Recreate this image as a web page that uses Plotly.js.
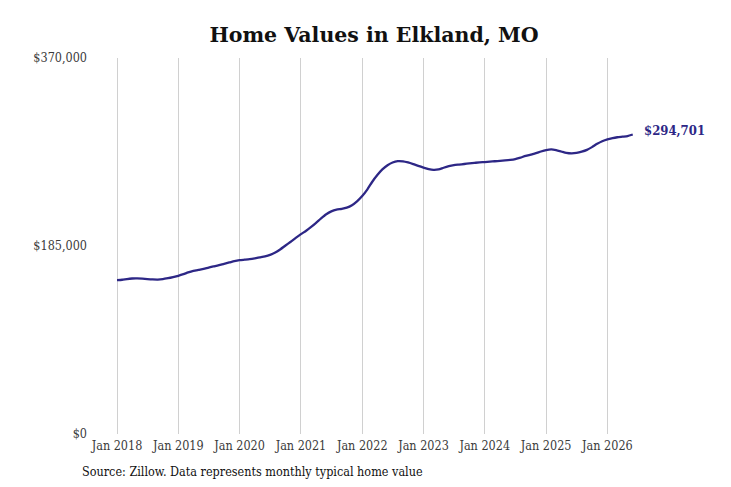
<!DOCTYPE html>
<html>
<head>
<meta charset="utf-8">
<script src="https://cdn.plot.ly/plotly-3.0.1.min.js"></script>
<style>html,body{margin:0;padding:0;background:#fff;}#chart{width:731px;height:487px;}</style>
</head>
<body>
<div id="chart"></div>
<script>
const startYear = 2018;
const values = [
  151500,151800,152500,153000,153100,152800,152400,152100,152000,152400,153300,154400,
  155700,157300,159000,160500,161500,162500,163800,165000,166200,167500,168800,170100,
  171000,171500,172000,172800,173800,174800,176200,178500,181800,185500,189200,193000,
  196700,200000,203500,207800,212200,216300,219100,220800,221600,222800,225200,229000,
  234200,240800,248000,254800,260400,264500,267200,268500,268300,267200,265600,263900,
  262200,260700,259900,260300,262000,263500,264500,265100,265700,266300,266800,267300,
  267600,268000,268400,268800,269200,269700,270500,272000,273600,274900,276300,278000,
  279400,280000,279300,278000,276700,276200,276600,277800,279600,282300,285500,288100,
  290000,291200,292000,292600,293200,294701
];
const dates = values.map((v, i) => {
  const y = startYear + Math.floor(i / 12);
  const m = (i % 12) + 1;
  return y + '-' + String(m).padStart(2, '0') + '-01';
});
const tickDates = ['2018-01-01','2019-01-01','2020-01-01','2021-01-01','2022-01-01','2023-01-01','2024-01-01','2025-01-01','2026-01-01'];
const tickLabels = ['Jan 2018','Jan 2019','Jan 2020','Jan 2021','Jan 2022','Jan 2023','Jan 2024','Jan 2025','Jan 2026'];
const yTickVals = [0, 185000, 370000];
const yTickText = ['$0', '$185,000', '$370,000'];
const lastLabel = '$294,701';

const lineColor = '#2d2786';
const serif = '"DejaVu Serif Condensed", "DejaVu Serif", serif';

const trace = {
  x: dates, y: values, type: 'scatter', mode: 'lines',
  line: {color: lineColor, width: 2.3, shape: 'spline', smoothing: 0.6},
  hoverinfo: 'skip'
};

const W = 731, H = 487, ML = 92, MR = 15, MT = 58, MB = 53;
const plotW = W - ML - MR, plotH = H - MT - MB;

const layout = {
  width: W, height: H,
  margin: {l: ML, r: MR, t: MT, b: MB},
  paper_bgcolor: '#fff', plot_bgcolor: '#fff',
  showlegend: false,
  title: {text: 'Home Values in Elkland, MO', xref: 'paper', x: (374 - ML) / plotW, xanchor: 'center',
          yref: 'container', y: 1 - 35 / H, yanchor: 'middle',
          font: {family: '"DejaVu Serif", serif', size: 20.5, color: '#111', weight: 'bold'}},
  xaxis: {
    type: 'date', range: ['2017-08-05', '2027-10-10'],
    tickvals: tickDates, ticktext: tickLabels, ticks: '', ticklabelstandoff: 2,
    showgrid: true, gridcolor: '#d0d0d0', gridwidth: 1,
    zeroline: false, showline: false,
    tickfont: {family: serif, size: 12.5, color: '#3a3a3a'}
  },
  yaxis: {
    range: [0, 370000], tickvals: yTickVals, ticktext: yTickText, ticks: '', ticklabelstandoff: 4,
    showgrid: false, zeroline: false, showline: false,
    tickfont: {family: serif, size: 12.5, color: '#3a3a3a'}
  },
  annotations: [
    {x: dates[dates.length - 1], y: values[values.length - 1], xref: 'x', yref: 'y',
     text: '<b>' + lastLabel + '</b>', showarrow: false, xanchor: 'left', yanchor: 'middle',
     xshift: 9, yshift: 4, font: {family: serif, size: 13, color: lineColor}},
    {x: (80 - ML) / plotW, y: (434 - 472) / plotH, xref: 'paper', yref: 'paper',
     xanchor: 'left', yanchor: 'middle',
     text: 'Source: Zillow. Data represents monthly typical home value',
     showarrow: false, font: {family: serif, size: 12.5, color: '#111'}}
  ]
};

Plotly.newPlot('chart', [trace], layout, {displayModeBar: false, staticPlot: true});
</script>
</body>
</html>
